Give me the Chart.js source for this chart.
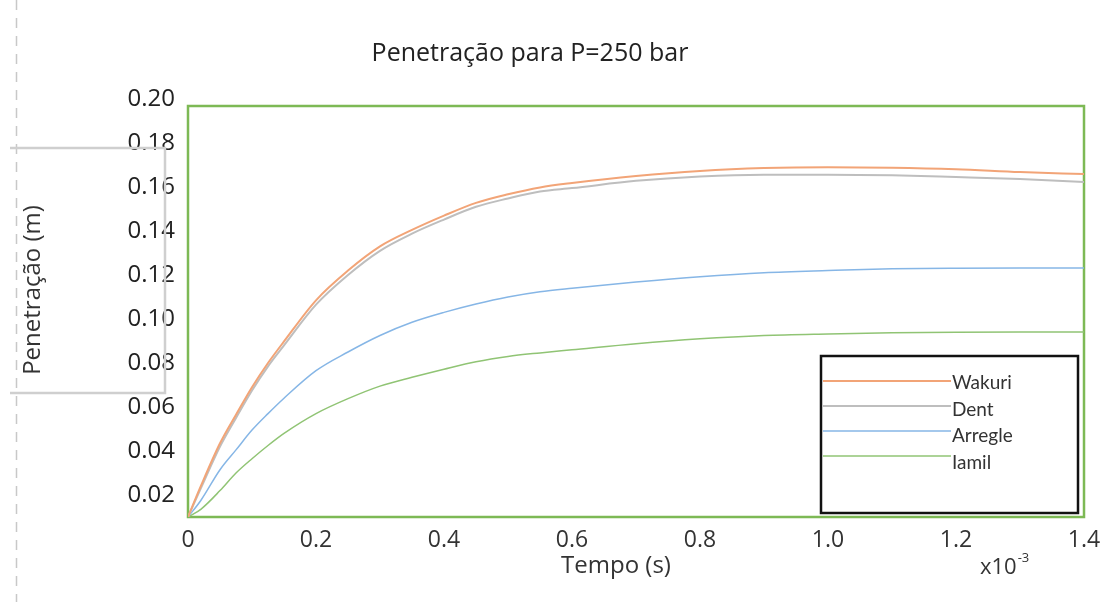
<!DOCTYPE html>
<html>
<head>
<meta charset="utf-8">
<script src="https://cdn.jsdelivr.net/npm/chart.js@4/dist/chart.umd.min.js"></script>
<style>
  html, body { margin: 0; padding: 0; background: #fff; }
  #wrap { width: 1109px; height: 602px; }
</style>
</head>
<body>
<div id="wrap"><canvas id="myChart" width="1109" height="602"></canvas></div>
<script>
// tempo (x10^-3 s)
var tempo = [0, 0.02, 0.05, 0.075, 0.1, 0.125, 0.15, 0.2, 0.25, 0.3, 0.35, 0.4, 0.45, 0.5, 0.55, 0.6, 0.7, 0.8, 0.9, 1.0, 1.1, 1.2, 1.3, 1.4];

// penetração (m)
var wakuri  = [0.010, 0.024, 0.0435, 0.0565, 0.069, 0.080, 0.0898, 0.1085, 0.122, 0.133, 0.1405, 0.147, 0.1528, 0.1567, 0.1598, 0.1618, 0.1650, 0.1673, 0.1686, 0.1690, 0.1688, 0.1681, 0.1668, 0.1659];
var dent    = [0.010, 0.023, 0.042, 0.055, 0.0675, 0.0785, 0.088, 0.1065, 0.120, 0.131, 0.1388, 0.1452, 0.151, 0.1548, 0.158, 0.1595, 0.1628, 0.1648, 0.1656, 0.1656, 0.1653, 0.1645, 0.1636, 0.1623];
var arregle = [0.010, 0.0175, 0.0315, 0.0405, 0.0495, 0.0570, 0.0640, 0.0765, 0.0850, 0.0925, 0.0985, 0.1030, 0.1068, 0.110, 0.1124, 0.1140, 0.1168, 0.1192, 0.121, 0.122, 0.1228, 0.1231, 0.1232, 0.1232];
var iamil   = [0.010, 0.0135, 0.022, 0.030, 0.0365, 0.0425, 0.048, 0.057, 0.0638, 0.0695, 0.0735, 0.0772, 0.0806, 0.083, 0.0846, 0.0860, 0.0888, 0.091, 0.0925, 0.0932, 0.0937, 0.094, 0.0941, 0.0941];

var seriesNames = ['Wakuri', 'Dent', 'Arregle', 'Iamil'];

var xTickValues = [0, 0.2, 0.4, 0.6, 0.8, 1.0, 1.2, 1.4];
var xTickLabels = ['0', '0.2', '0.4', '0.6', '0.8', '1.0', '1.2', '1.4'];
var yTickValues = [0.02, 0.04, 0.06, 0.08, 0.10, 0.12, 0.14, 0.16, 0.18, 0.20];

var chartTitle = 'Penetração para P=250 bar';
var xTitle = 'Tempo (s)';
var yTitle = 'Penetração (m)';
var xMultiplier = 'x10';
var xExponent = '-3';

function toPoints(ys) {
    return tempo.map(function (t, i) { return { x: t, y: ys[i] }; });
}

// moldura verde, legenda, titulos e linhas cinzentas da esquerda
var decorPlugin = {
    id: 'decor',
    beforeDatasetsDraw: function (chart) {
        var a = chart.chartArea;
        var ctx = chart.ctx;
        ctx.save();
        ctx.strokeStyle = '#7DB955';
        ctx.lineWidth = 2.5;
        // a moldura do original começa um pouco abaixo do 0.20
        ctx.strokeRect(a.left, a.top + 7, a.right - a.left, a.bottom - a.top - 7);
        ctx.restore();
    },
    afterDraw: function (chart) {
        var ctx = chart.ctx;
        ctx.save();

        // linha tracejada
        ctx.strokeStyle = '#c8c8c8';
        ctx.lineWidth = 1.5;
        ctx.setLineDash([10, 8]);
        ctx.beginPath();
        ctx.moveTo(16.5, 0);
        ctx.lineTo(16.5, 602);
        ctx.stroke();
        ctx.setLineDash([]);

        // colchete cinzento
        ctx.strokeStyle = '#cfcfcf';
        ctx.lineWidth = 2.5;
        ctx.beginPath();
        ctx.moveTo(10, 148);
        ctx.lineTo(165, 148);
        ctx.lineTo(165, 393);
        ctx.lineTo(10, 393);
        ctx.stroke();

        // titulo
        ctx.fillStyle = '#222';
        ctx.font = '25px "Open Sans"';
        ctx.textAlign = 'center';
        ctx.textBaseline = 'middle';
        ctx.fillText(chartTitle, 530, 54);

        // titulo eixo x
        ctx.font = '24px "Open Sans"';
        ctx.fillStyle = '#333';
        ctx.fillText(xTitle, 616, 566);

        // x10^-3
        ctx.textAlign = 'left';
        ctx.font = '22px "Open Sans"';
        ctx.fillText(xMultiplier, 980, 568);
        var w = ctx.measureText(xMultiplier).width;
        ctx.font = '13px "Open Sans"';
        ctx.fillText(xExponent, 980 + w + 1, 558);

        // titulo eixo y
        ctx.save();
        ctx.translate(33, 290);
        ctx.rotate(-Math.PI / 2);
        ctx.font = '24px "Open Sans"';
        ctx.textAlign = 'center';
        ctx.fillStyle = '#333';
        ctx.fillText(yTitle, 0, 0);
        ctx.restore();

        // legenda
        ctx.fillStyle = '#fff';
        ctx.fillRect(821, 356, 257, 157);
        ctx.strokeStyle = '#111';
        ctx.lineWidth = 2.5;
        ctx.strokeRect(821, 356, 257, 157);
        chart.data.datasets.forEach(function (ds, i) {
            var ly = 381 + 25 * i;
            ctx.strokeStyle = ds.borderColor;
            ctx.lineWidth = ds.borderWidth;
            ctx.beginPath();
            ctx.moveTo(823, ly);
            ctx.lineTo(951, ly);
            ctx.stroke();
            ctx.fillStyle = '#333';
            ctx.font = '19px Lato';
            ctx.textAlign = 'left';
            ctx.textBaseline = 'middle';
            ctx.fillText(ds.label, 952, 383 + 26.5 * i);
        });
        ctx.restore();
    }
};

var ctx = document.getElementById('myChart');
var myChart = new Chart(ctx, {
    type: 'line',
    data: {
        datasets: [
            { label: seriesNames[0], data: toPoints(wakuri), borderColor: '#F2A477', borderWidth: 2 },
            { label: seriesNames[1], data: toPoints(dent), borderColor: '#BEBEBE', borderWidth: 2 },
            { label: seriesNames[2], data: toPoints(arregle), borderColor: '#86B6E6', borderWidth: 1.5 },
            { label: seriesNames[3], data: toPoints(iamil), borderColor: '#90C474', borderWidth: 1.5 }
        ]
    },
    options: {
        responsive: false,
        animation: false,
        layout: { padding: { top: 99, right: 25, left: 0, bottom: 0 } },
        elements: {
            point: { radius: 0 },
            line: { cubicInterpolationMode: 'monotone', fill: false }
        },
        plugins: {
            legend: { display: false },
            title: { display: false },
            tooltip: { enabled: false }
        },
        scales: {
            x: {
                type: 'linear',
                min: 0,
                max: 1.4,
                grid: { display: false },
                border: { display: false },
                afterBuildTicks: function (scale) {
                    scale.ticks = xTickValues.map(function (v) { return { value: v }; });
                },
                afterFit: function (scale) { scale.height = 85; },
                ticks: {
                    padding: 2,
                    maxRotation: 0,
                    color: '#333',
                    font: { family: 'Open Sans', size: 23 },
                    callback: function (value, index) { return xTickLabels[index]; }
                }
            },
            y: {
                min: 0.01,
                max: 0.2,
                grid: { display: false },
                border: { display: false },
                afterBuildTicks: function (scale) {
                    scale.ticks = yTickValues.map(function (v) { return { value: v }; });
                },
                afterFit: function (scale) { scale.width = 188; },
                ticks: {
                    padding: 5,
                    color: '#222',
                    font: { family: 'Open Sans', size: 24 },
                    callback: function (value) { return value.toFixed(2); }
                }
            }
        }
    },
    plugins: [decorPlugin]
});
</script>
</body>
</html>
